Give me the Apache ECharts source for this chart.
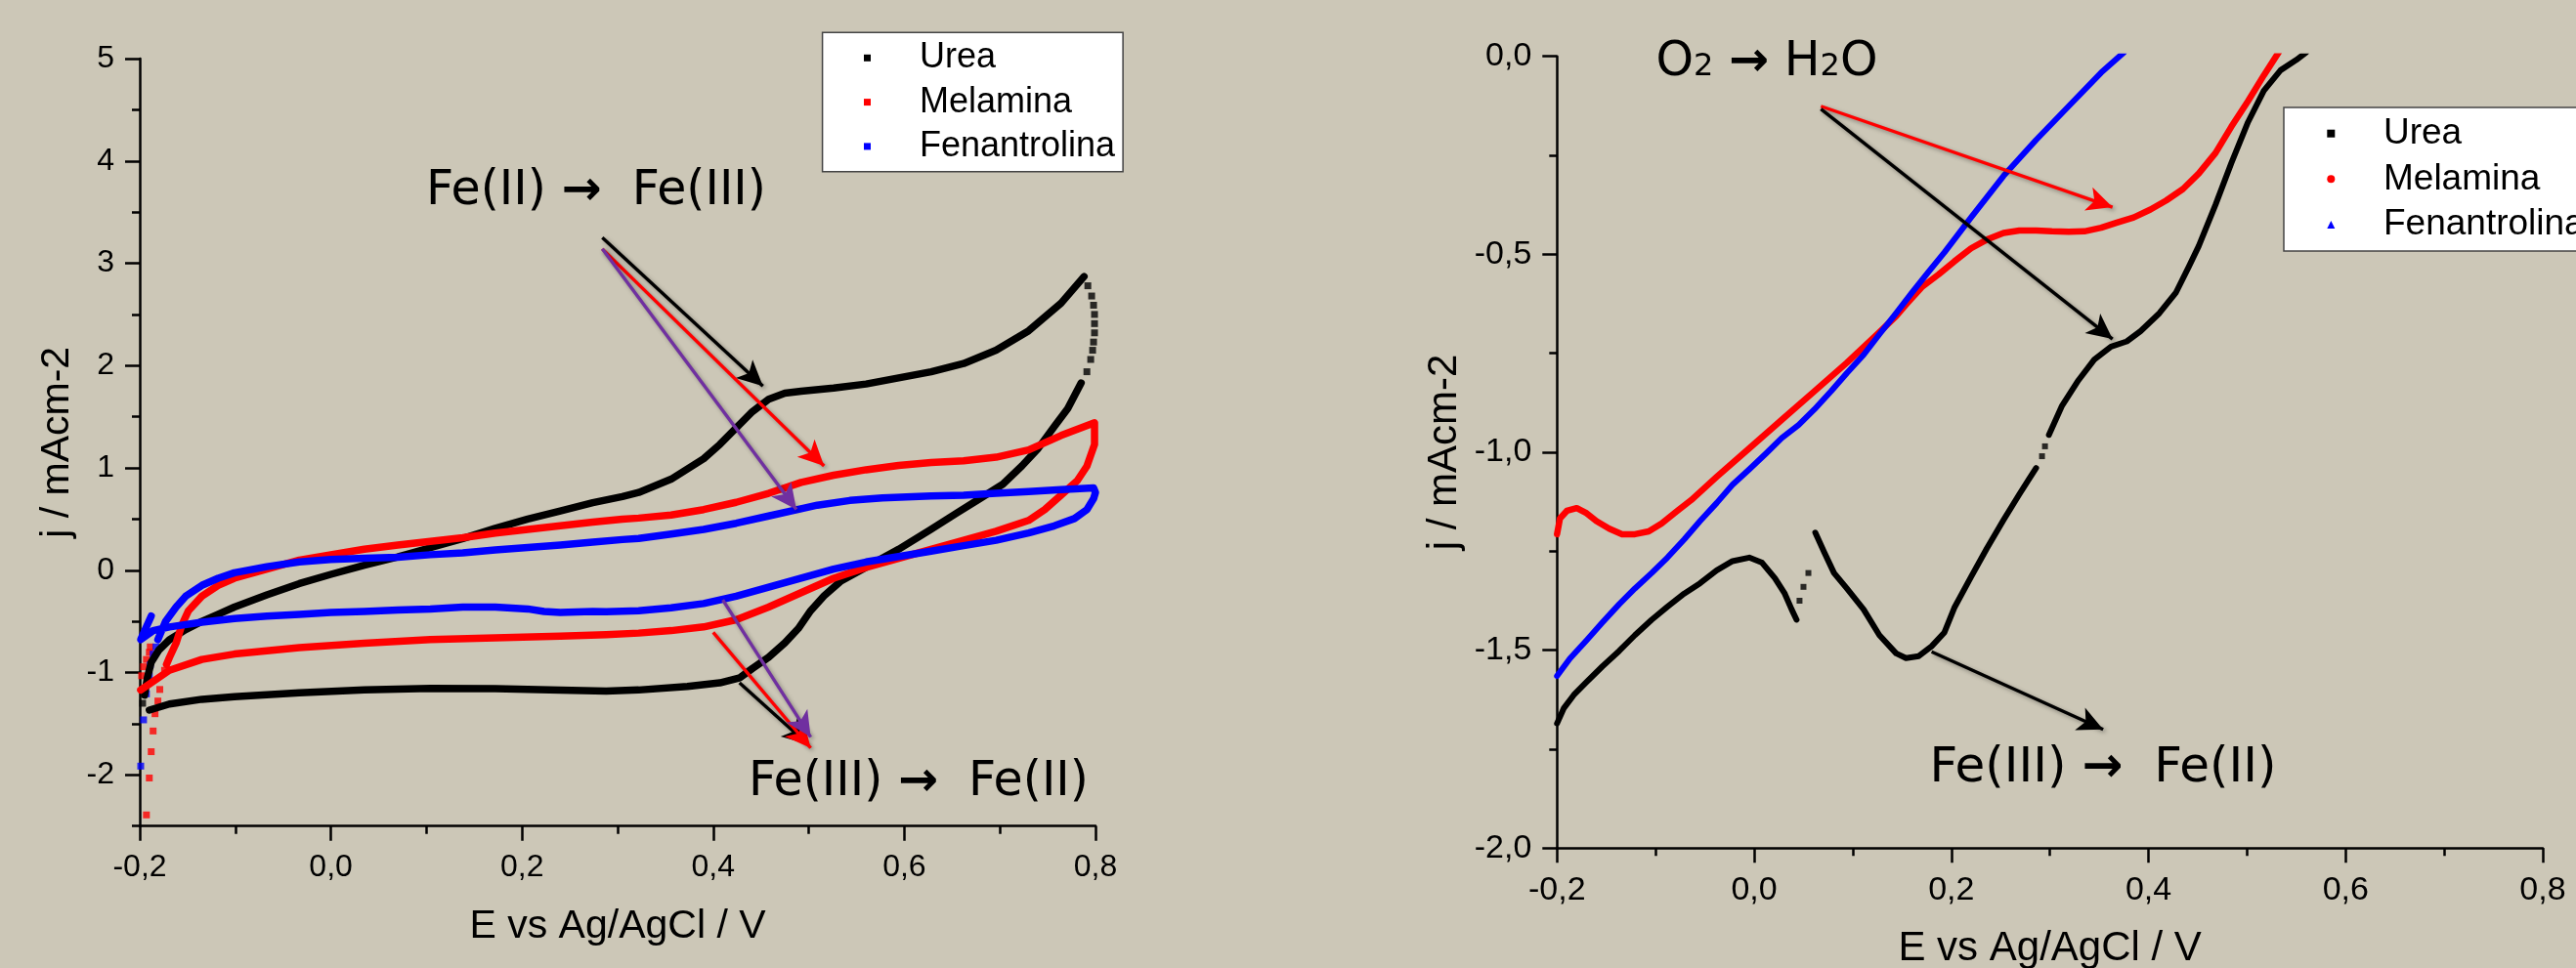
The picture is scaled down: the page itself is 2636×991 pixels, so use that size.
<!DOCTYPE html>
<html><head><meta charset="utf-8">
<script src="https://cdn.jsdelivr.net/npm/echarts@6.0.0/dist/echarts.min.js"></script>
<style>html,body{margin:0;padding:0;background:#ccc7b7;}#c{width:2636px;height:991px;}</style>
</head><body><div id="c"></div>
<script>
// ---------- DATA ----------
const seriesNames = ['Urea', 'Melamina', 'Fenantrolina'];
const xTicksLabel = 'E vs Ag/AgCl / V';
const yTicksLabel = 'j / mAcm-2';
const leftYLabelValues = [-2, -1, 0, 1, 2, 3, 4, 5];

// Left chart: cyclic voltammograms (E / V, j / mA cm-2)
const ureaAnodic = [[-0.195,-1.22],[-0.192,-1.05],[-0.188,-0.90],[-0.180,-0.78],[-0.169,-0.68],[-0.152,-0.58],[-0.135,-0.50],[-0.118,-0.43],[-0.101,-0.36],[-0.067,-0.24],[-0.033,-0.13],[0.000,-0.04],[0.035,0.05],[0.070,0.13],[0.104,0.22],[0.138,0.31],[0.172,0.41],[0.206,0.50],[0.240,0.58],[0.274,0.66],[0.305,0.72],[0.322,0.76],[0.356,0.89],[0.390,1.09],[0.407,1.23],[0.424,1.39],[0.441,1.55],[0.458,1.67],[0.475,1.73],[0.492,1.75],[0.526,1.78],[0.560,1.82],[0.594,1.88],[0.628,1.94],[0.662,2.02],[0.696,2.15],[0.730,2.34],[0.764,2.61],[0.788,2.87]];
const ureaCathodic = [[0.785,1.83],[0.771,1.58],[0.757,1.405],[0.740,1.19],[0.723,1.02],[0.703,0.84],[0.679,0.70],[0.655,0.56],[0.628,0.40],[0.594,0.205],[0.560,0.03],[0.533,-0.11],[0.516,-0.25],[0.502,-0.395],[0.489,-0.57],[0.475,-0.71],[0.458,-0.85],[0.441,-0.96],[0.428,-1.05],[0.407,-1.10],[0.373,-1.135],[0.322,-1.17],[0.288,-1.18],[0.240,-1.172],[0.172,-1.158],[0.104,-1.155],[0.035,-1.17],[-0.033,-1.197],[-0.101,-1.236],[-0.135,-1.261],[-0.169,-1.307],[-0.190,-1.367]];
const ureaCVDots = [[0.792,2.78],[0.796,2.68],[0.798,2.59],[0.799,2.50],[0.799,2.41],[0.799,2.32],[0.798,2.23],[0.797,2.15],[0.795,2.06],[0.791,1.94],[-0.197,-1.30]];

const melaminaCV = [[-0.172,-0.92],[-0.169,-0.854],[-0.162,-0.713],[-0.156,-0.537],[-0.149,-0.395],[-0.135,-0.254],[-0.118,-0.148],[-0.101,-0.078],[-0.067,0.011],[-0.033,0.099],[0.000,0.152],[0.035,0.205],[0.070,0.247],[0.104,0.282],[0.138,0.318],[0.172,0.364],[0.206,0.399],[0.240,0.434],[0.274,0.470],[0.305,0.500],[0.322,0.510],[0.356,0.540],[0.390,0.593],[0.424,0.664],[0.458,0.752],[0.492,0.858],[0.526,0.929],[0.560,0.982],[0.594,1.024],[0.628,1.052],[0.662,1.070],[0.696,1.105],[0.730,1.176],[0.764,1.317],[0.799,1.441],[0.799,1.23],[0.791,1.017],[0.781,0.876],[0.764,0.734],[0.747,0.593],[0.730,0.487],[0.696,0.381],[0.662,0.293],[0.628,0.205],[0.594,0.117],[0.560,0.028],[0.526,-0.078],[0.492,-0.219],[0.458,-0.360],[0.424,-0.484],[0.390,-0.554],[0.356,-0.590],[0.322,-0.614],[0.288,-0.630],[0.240,-0.643],[0.172,-0.660],[0.104,-0.678],[0.035,-0.713],[-0.033,-0.756],[-0.101,-0.819],[-0.135,-0.872],[-0.169,-0.978],[-0.199,-1.17]];
const melaminaCVDots = [[-0.174,-0.978],[-0.179,-1.165],[-0.181,-1.278],[-0.184,-1.402],[-0.186,-1.571],[-0.188,-1.773],[-0.190,-2.03],[-0.193,-2.391],[-0.198,-1.031],[-0.196,-0.943],[-0.193,-0.872],[-0.190,-0.802],[-0.189,-0.749]];

const fenantrolinaCV = [[-0.181,-0.678],[-0.173,-0.501],[-0.162,-0.360],[-0.152,-0.254],[-0.135,-0.148],[-0.118,-0.078],[-0.101,-0.025],[-0.067,0.035],[-0.033,0.081],[0.000,0.106],[0.035,0.117],[0.070,0.127],[0.104,0.152],[0.138,0.169],[0.172,0.198],[0.206,0.222],[0.240,0.247],[0.274,0.275],[0.305,0.300],[0.322,0.311],[0.356,0.353],[0.390,0.399],[0.424,0.459],[0.458,0.530],[0.485,0.586],[0.509,0.636],[0.543,0.682],[0.577,0.706],[0.628,0.727],[0.662,0.734],[0.696,0.752],[0.730,0.770],[0.764,0.787],[0.798,0.805],[0.800,0.760],[0.798,0.699],[0.791,0.593],[0.778,0.505],[0.757,0.434],[0.730,0.364],[0.696,0.293],[0.662,0.240],[0.628,0.187],[0.594,0.134],[0.560,0.081],[0.526,0.011],[0.492,-0.078],[0.458,-0.166],[0.424,-0.254],[0.390,-0.325],[0.356,-0.367],[0.322,-0.395],[0.288,-0.405],[0.274,-0.403],[0.240,-0.413],[0.223,-0.403],[0.206,-0.378],[0.172,-0.360],[0.138,-0.360],[0.104,-0.378],[0.070,-0.388],[0.035,-0.403],[0.000,-0.413],[-0.033,-0.431],[-0.067,-0.448],[-0.101,-0.473],[-0.135,-0.508],[-0.169,-0.554],[-0.186,-0.590],[-0.199,-0.678],[-0.188,-0.448]];
const fenantrolinaCVDots = [[-0.183,-0.749],[-0.186,-0.819],[-0.189,-0.925],[-0.190,-1.031],[-0.193,-1.208],[-0.196,-1.462],[-0.199,-1.914]];

// Right chart: linear sweeps (E / V, j / mA cm-2)
const ureaLSV1 = [[-0.200,-1.685],[-0.193,-1.646],[-0.183,-1.613],[-0.170,-1.580],[-0.154,-1.541],[-0.137,-1.502],[-0.121,-1.462],[-0.104,-1.423],[-0.088,-1.390],[-0.071,-1.357],[-0.055,-1.331],[-0.038,-1.298],[-0.022,-1.275],[-0.005,-1.266],[0.008,-1.279],[0.021,-1.318],[0.031,-1.357],[0.038,-1.397],[0.043,-1.423]];
const ureaLSV2 = [[0.062,-1.203],[0.071,-1.252],[0.081,-1.305],[0.094,-1.344],[0.111,-1.397],[0.127,-1.462],[0.144,-1.508],[0.154,-1.520],[0.167,-1.515],[0.180,-1.490],[0.193,-1.455],[0.203,-1.393],[0.220,-1.315],[0.236,-1.243],[0.253,-1.171],[0.269,-1.106],[0.279,-1.067],[0.286,-1.040]];
const ureaLSV3 = [[0.299,-0.956],[0.312,-0.884],[0.329,-0.818],[0.345,-0.766],[0.362,-0.733],[0.378,-0.720],[0.392,-0.694],[0.411,-0.649],[0.428,-0.596],[0.441,-0.531],[0.451,-0.479],[0.468,-0.375],[0.484,-0.270],[0.501,-0.166],[0.517,-0.087],[0.534,-0.035],[0.550,-0.009],[0.560,0.010]];
const ureaLSVDots = [[0.046,-1.375],[0.050,-1.340],[0.055,-1.305],[0.292,-1.010],[0.295,-0.985]];
const melaminaLSV = [[-0.200,-1.207],[-0.197,-1.167],[-0.190,-1.148],[-0.180,-1.141],[-0.170,-1.154],[-0.160,-1.174],[-0.147,-1.193],[-0.134,-1.207],[-0.121,-1.207],[-0.107,-1.200],[-0.094,-1.180],[-0.078,-1.148],[-0.064,-1.121],[-0.038,-1.062],[-0.005,-0.990],[0.028,-0.918],[0.061,-0.846],[0.094,-0.774],[0.127,-0.697],[0.144,-0.656],[0.154,-0.627],[0.170,-0.583],[0.187,-0.551],[0.203,-0.518],[0.220,-0.485],[0.236,-0.463],[0.253,-0.446],[0.269,-0.440],[0.286,-0.440],[0.302,-0.442],[0.319,-0.443],[0.335,-0.442],[0.352,-0.433],[0.368,-0.420],[0.385,-0.407],[0.402,-0.387],[0.418,-0.364],[0.435,-0.335],[0.451,-0.296],[0.468,-0.244],[0.484,-0.178],[0.501,-0.113],[0.517,-0.048],[0.532,0.010]];
const fenantrolinaLSV = [[-0.200,-1.565],[-0.187,-1.521],[-0.170,-1.475],[-0.154,-1.430],[-0.137,-1.384],[-0.121,-1.344],[-0.104,-1.305],[-0.088,-1.266],[-0.071,-1.220],[-0.055,-1.174],[-0.038,-1.128],[-0.022,-1.082],[-0.005,-1.043],[0.012,-1.003],[0.028,-0.964],[0.045,-0.931],[0.061,-0.892],[0.078,-0.846],[0.094,-0.800],[0.111,-0.754],[0.127,-0.702],[0.144,-0.649],[0.160,-0.597],[0.177,-0.544],[0.193,-0.495],[0.220,-0.407],[0.253,-0.302],[0.286,-0.211],[0.319,-0.126],[0.352,-0.041],[0.375,0.010]];

// Annotation arrows, in data units [from, to]
const leftArrows = [
  {from:[0.284,3.25], to:[0.452,1.80], color:'#000000'},
  {from:[0.284,3.14], to:[0.516,1.02], color:'#ff0000'},
  {from:[0.284,3.14], to:[0.487,0.594], color:'#7030a0'},
  {from:[0.4275,-1.10], to:[0.499,-1.70], color:'#000000'},
  {from:[0.400,-0.607], to:[0.502,-1.737], color:'#ff0000'},
  {from:[0.410,-0.29], to:[0.502,-1.63], color:'#7030a0'}
];
const rightArrows = [
  {from:[0.0677,-0.126], to:[0.3635,-0.381], color:'#ff0000'},
  {from:[0.0677,-0.133], to:[0.3635,-0.714], color:'#000000'},
  {from:[0.180,-1.504], to:[0.354,-1.70], color:'#000000'}
];

// ---------- CHART ----------
const COLORS = {Urea:'#000000', Melamina:'#ff0000', Fenantrolina:'#0000ff'};
const BG = '#ccc7b7';
const AX = {color:'#000', width:2.5};
const FONT = 'Liberation Sans';
const fmtDec = v => (Math.abs(v) < 1e-9 ? 0 : v).toFixed(1).replace('.', ',');

function lineS(name, data, grid, width) {
  return {type:'line', name, data, xAxisIndex: grid, yAxisIndex: grid === 0 ? 0 : 2,
    symbol:'none', showSymbol:false, smooth:false, clip:true,
    lineStyle:{color:COLORS[name], width, join:'round', cap:'round'}, itemStyle:{color:COLORS[name]}, silent:true};
}
function dotS(name, data, grid, size) {
  return {type:'scatter', name, data, xAxisIndex: grid, yAxisIndex: grid === 0 ? 0 : 2,
    symbol:'rect', symbolSize:size, itemStyle:{color:COLORS[name]}, silent:true, clip:true};
}
function arrowS(arrows, grid) {
  return {type:'line', name:'_arrows' + grid, data:[], xAxisIndex:grid, yAxisIndex: grid === 0 ? 0 : 2, z:10, silent:true,
    markLine:{silent:true, animation:false, symbol:['none','arrow'], symbolSize:[19,26], label:{show:false},
      emphasis:{disabled:true},
      data: arrows.map(a => [{coord:a.from, lineStyle:{color:a.color, width:3.4, type:'solid', shadowBlur:4, shadowColor:'rgba(0,0,0,0.35)', shadowOffsetX:2, shadowOffsetY:2}, itemStyle:{color:a.color}}, {coord:a.to}])}};
}

function xAxisCfg(grid, labelSize, nameSize) {
  return {gridIndex:grid, type:'value', min:-0.2, max:0.8, interval:0.2,
    name:xTicksLabel, nameLocation:'middle', nameGap:82,
    nameTextStyle:{fontSize:nameSize, color:'#000', fontFamily:FONT},
    axisLine:{show:true, onZero:false, lineStyle:AX},
    axisTick:{show:true, length:15, lineStyle:AX},
    minorTick:{show:true, splitNumber:2, length:8, lineStyle:AX},
    splitLine:{show:false}, minorSplitLine:{show:false},
    axisLabel:{fontSize:labelSize, color:'#000', fontFamily:FONT, margin:26, formatter:fmtDec, showMinLabel:true, showMaxLabel:true}};
}

const legendRich = (size, gap) => ({
  g:{width:gap, fontSize:size},
  n:{fontSize:size, color:'#000', fontFamily:FONT}
});

const option = {
  backgroundColor: BG,
  animation: false,
  textStyle:{fontFamily:FONT},
  grid:[
    {left:143, top:60, width:978, height:785.7, outerBoundsMode:'none', containLabel:false},
    {left:1593.3, top:57.7, width:1008.7, height:810.6, outerBoundsMode:'none', containLabel:false}
  ],
  xAxis:[ xAxisCfg(0, 32, 41), xAxisCfg(1, 34, 42) ],
  yAxis:[
    {gridIndex:0, type:'value', min:-2.5, max:5, interval:0.5, position:'left',
      name:yTicksLabel, nameLocation:'middle', nameGap:64,
      nameTextStyle:{fontSize:41, color:'#000', fontFamily:FONT},
      axisLine:{show:true, onZero:false, lineStyle:AX},
      axisTick:{show:true, length:15, lineStyle:AX, customValues:leftYLabelValues},
      axisLabel:{fontSize:32, color:'#000', fontFamily:FONT, margin:26, customValues:leftYLabelValues, formatter:v => String(Math.round(v))},
      splitLine:{show:false}},
    {gridIndex:0, type:'value', min:-2.5, max:5, interval:0.5, position:'left', offset:0,
      axisLine:{show:false, onZero:false}, axisTick:{show:true, length:8, lineStyle:AX},
      axisLabel:{show:false}, splitLine:{show:false}},
    {gridIndex:1, type:'value', min:-2, max:0, interval:0.5, position:'left',
      name:yTicksLabel, nameLocation:'middle', nameGap:94,
      nameTextStyle:{fontSize:42, color:'#000', fontFamily:FONT},
      axisLine:{show:true, onZero:false, lineStyle:AX},
      axisTick:{show:true, length:15, lineStyle:AX},
      minorTick:{show:true, splitNumber:2, length:8, lineStyle:AX},
      axisLabel:{fontSize:34, color:'#000', fontFamily:FONT, margin:26, formatter:fmtDec, showMinLabel:true, showMaxLabel:true},
      splitLine:{show:false}, minorSplitLine:{show:false}}
  ],
  legend:[
    {left:841.6, top:33.3, orient:'vertical', selectedMode:false, backgroundColor:'#ffffff', borderColor:'#444', borderWidth:1.5,
      padding:[8, 8, 7.8, 42.4], itemWidth:7, itemHeight:7, itemGap:9.3,
      data: seriesNames.map(n => ({name:n, icon:'rect'})),
      formatter: n => '{g| }{n|' + n + '}',
      textStyle:{fontSize:36, color:'#000', fontFamily:FONT, rich:legendRich(36, 45)}},
    {left:2337, top:110, orient:'vertical', selectedMode:false, backgroundColor:'#ffffff', borderColor:'#444', borderWidth:1.5,
      padding:[8.2, 8, 8.5, 44.3], itemWidth:8, itemHeight:8, itemGap:9.65,
      data:[{name:'Urea', icon:'rect'}, {name:'Melamina', icon:'circle'}, {name:'Fenantrolina', icon:'triangle'}],
      formatter: n => '{g| }{n|' + n + '}',
      textStyle:{fontSize:37, color:'#000', fontFamily:FONT, rich:legendRich(37, 44.7)}}
  ],
  series:[
    lineS('Urea', ureaAnodic, 0, 7.5),
    lineS('Urea', ureaCathodic, 0, 7.5),
    dotS('Urea', ureaCVDots, 0, 7),
    lineS('Melamina', melaminaCV, 0, 7.5),
    dotS('Melamina', melaminaCVDots, 0, 7),
    lineS('Fenantrolina', fenantrolinaCV, 0, 7.5),
    dotS('Fenantrolina', fenantrolinaCVDots, 0, 7),
    arrowS(leftArrows, 0),
    lineS('Urea', ureaLSV1, 1, 6),
    lineS('Urea', ureaLSV2, 1, 6),
    lineS('Urea', ureaLSV3, 1, 6),
    dotS('Urea', ureaLSVDots, 1, 6),
    lineS('Melamina', melaminaLSV, 1, 6.5),
    lineS('Fenantrolina', fenantrolinaLSV, 1, 6),
    arrowS(rightArrows, 1)
  ],
  graphic:[
    {type:'text', x:610, y:196, silent:true, style:{text:'{t|Fe(II) }{a|→}{t|  Fe(III)}', align:'center', verticalAlign:'middle',
      rich:{t:{fontSize:49, fontFamily:'DejaVu Sans', fill:'#000'}, a:{fontSize:49, fontFamily:'DejaVu Sans', fontWeight:'bold', fill:'#000'}}}},
    {type:'text', x:940, y:801, silent:true, style:{text:'{t|Fe(III) }{a|→}{t|  Fe(II)}', align:'center', verticalAlign:'middle',
      rich:{t:{fontSize:49, fontFamily:'DejaVu Sans', fill:'#000'}, a:{fontSize:49, fontFamily:'DejaVu Sans', fontWeight:'bold', fill:'#000'}}}},
    {type:'text', x:2152, y:787, silent:true, style:{text:'{t|Fe(III) }{a|→}{t|  Fe(II)}', align:'center', verticalAlign:'middle',
      rich:{t:{fontSize:50, fontFamily:'DejaVu Sans', fill:'#000'}, a:{fontSize:50, fontFamily:'DejaVu Sans', fontWeight:'bold', fill:'#000'}}}},
    {type:'text', x:1808, y:64, silent:true, style:{text:'{t|O}{s|2}{t| }{a|→}{t| H}{s|2}{t|O}', align:'center', verticalAlign:'middle',
      rich:{t:{fontSize:49, fontFamily:'DejaVu Sans', fill:'#000'}, a:{fontSize:49, fontFamily:'DejaVu Sans', fontWeight:'bold', fill:'#000'},
            s:{fontSize:32, fontFamily:'DejaVu Sans', fill:'#000', verticalAlign:'bottom', padding:[0,0,4,0]}}}}
  ]
};

const chart = echarts.init(document.getElementById('c'), null, {renderer:'canvas'});
chart.setOption(option);
</script>
</body></html>
